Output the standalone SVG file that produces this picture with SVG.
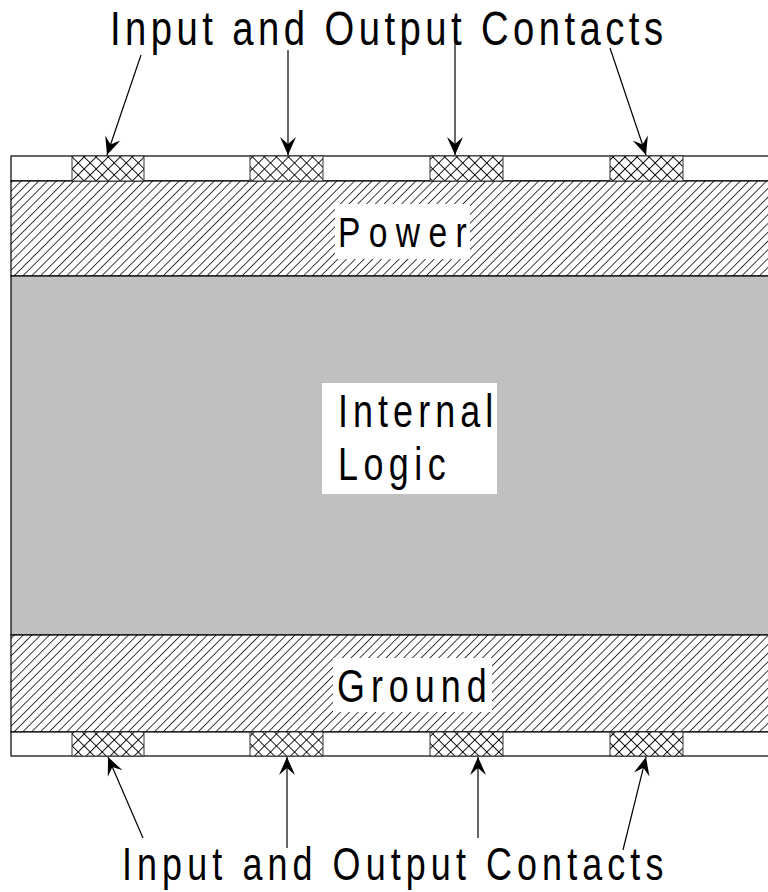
<svg xmlns="http://www.w3.org/2000/svg" width="768" height="892" viewBox="0 0 768 892">
<style>
.lbl{font-family:"Liberation Sans",Arial,sans-serif;fill:#000}
.band{stroke:#000;stroke-width:1.2}
.contact{fill:url(#cross);stroke:#333;stroke-width:1}
.conn line{stroke:#000;stroke-width:1.2;marker-end:url(#ah)}
</style>
<defs>
<pattern id="hatch" width="6.2" height="10" patternUnits="userSpaceOnUse" patternTransform="rotate(45)">
<rect width="6.2" height="10" fill="#fff"/>
<line x1="0" y1="0" x2="0" y2="10" stroke="#000" stroke-width="1.5"/>
</pattern>
<pattern id="cross" width="8.5" height="8.5" patternUnits="userSpaceOnUse" patternTransform="rotate(45)">
<rect width="8.5" height="8.5" fill="#fff"/>
<line x1="0" y1="0" x2="0" y2="8.5" stroke="#000" stroke-width="1.8"/>
<line x1="0" y1="0" x2="8.5" y2="0" stroke="#000" stroke-width="1.8"/>
</pattern>
<marker id="ah" viewBox="-19 -9 20 18" refX="0" refY="0" markerWidth="20" markerHeight="18" markerUnits="userSpaceOnUse" orient="auto">
<path d="M0,0 L-18,-8 L-11,0 L-18,8 Z" fill="#000"/>
</marker>
</defs>
<rect width="768" height="892" fill="#fff"/>

<g id="top-strip"><rect x="11" y="156" width="769" height="25" fill="#fff" class="band"/></g>
<g id="power">
<rect x="11" y="181" width="769" height="95" fill="url(#hatch)" class="band"/>
<rect x="335" y="204" width="135" height="55" fill="#fff"/>
<text class="lbl" font-size="43" transform="translate(338,247) scale(0.78,1)" textLength="165" lengthAdjust="spacing">Power</text>
</g>
<g id="internal-logic">
<rect x="11" y="276" width="769" height="359" fill="#c0c0c0" class="band"/>
<rect x="322" y="383" width="175" height="111" fill="#fff"/>
<text class="lbl" font-size="46" transform="translate(338,427) scale(0.78,1)" textLength="199" lengthAdjust="spacing">Internal</text>
<text class="lbl" font-size="46" transform="translate(338,480) scale(0.78,1)" textLength="138" lengthAdjust="spacing">Logic</text>
</g>
<g id="ground">
<rect x="11" y="635" width="769" height="97" fill="url(#hatch)" class="band"/>
<rect x="333" y="658" width="159" height="54" fill="#fff"/>
<text class="lbl" font-size="46" transform="translate(337,702) scale(0.78,1)" textLength="192" lengthAdjust="spacing">Ground</text>
</g>
<g id="bottom-strip"><rect x="11" y="732" width="769" height="24" fill="#fff" class="band"/></g>

<g id="top-contacts">
<rect class="contact" x="72" y="156" width="72" height="25"/>
<rect class="contact" x="250" y="156" width="73" height="25"/>
<rect class="contact" x="430" y="156" width="73" height="25"/>
<rect class="contact" x="610" y="156" width="73" height="25"/>
</g>
<g id="bottom-contacts">
<rect class="contact" x="72" y="732" width="72" height="24"/>
<rect class="contact" x="250" y="732" width="73" height="24"/>
<rect class="contact" x="430" y="732" width="73" height="24"/>
<rect class="contact" x="610" y="732" width="73" height="24"/>
</g>

<g id="top-label">
<text class="lbl" font-size="49" transform="translate(110,45) scale(0.78,1)" textLength="709" lengthAdjust="spacing">Input and Output Contacts</text>
</g>
<g id="bottom-label">
<text class="lbl" font-size="46" transform="translate(122,880) scale(0.78,1)" textLength="694" lengthAdjust="spacing">Input and Output Contacts</text>
</g>

<g id="connectors" class="conn">
<line x1="141" y1="55" x2="107" y2="155"/>
<line x1="288" y1="50" x2="288" y2="155"/>
<line x1="455" y1="28" x2="455" y2="155"/>
<line x1="610" y1="48" x2="646" y2="155"/>
<line x1="143" y1="838" x2="108" y2="757"/>
<line x1="287" y1="848" x2="287" y2="757"/>
<line x1="478" y1="838" x2="478" y2="757"/>
<line x1="623" y1="850" x2="646" y2="757"/>
</g>
</svg>
